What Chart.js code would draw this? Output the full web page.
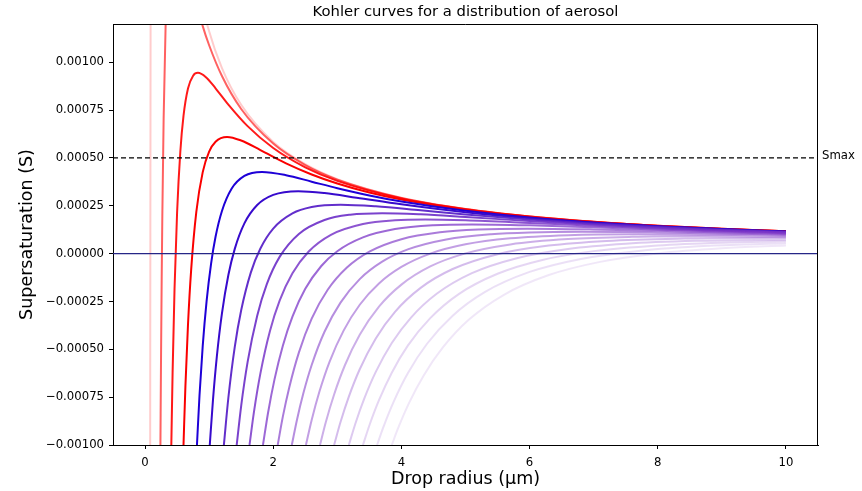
<!DOCTYPE html>
<html>
<head>
<meta charset="utf-8">
<script src="https://cdn.jsdelivr.net/npm/chart.js@4.4.1/dist/chart.umd.min.js"></script>
<style>
html,body{margin:0;padding:0;background:#fff;}
#wrap{width:862px;height:491px;}
</style>
</head>
<body>
<div id="wrap"><canvas id="c" width="862" height="491"></canvas></div>
<script>
// ---------- text ----------
const chartTitle = "Kohler curves for a distribution of aerosol";
const xAxisLabel = "Drop radius (\u03bcm)";
const yAxisLabel = "Supersaturation (S)";
const smaxLabel = "Smax";

// ---------- axes ----------
const xRange = [-0.5, 10.5];
const yRange = [-1.0e-3, 1.2e-3];
const xTicks = [0, 2, 4, 6, 8, 10];
const yTicks = [-1.0e-3, -0.75e-3, -0.5e-3, -0.25e-3, 0, 0.25e-3, 0.5e-3, 0.75e-3, 1.0e-3];
const smax = 0.5e-3;
const zeroLevel = 0;

// ---------- Kohler curves (radius in um, supersaturation) ----------
const curveRadii = [
  [0.080, 0.083, 0.0865, 0.090, 0.143, 0.40, 0.80, 1.0, 1.2, 1.5, 2.0, 2.5, 3.0, 4.0, 5.0, 6.0, 7.0, 8.0, 9.0, 10.0],
  [0.24, 0.25, 0.26, 0.27, 0.29, 0.32, 0.35, 0.456, 0.70, 0.90, 1.0, 1.2, 1.5, 2.0, 2.5, 3.0, 4.0, 5.0, 6.0, 7.0, 8.0, 9.0, 10.0],
  [0.41, 0.43, 0.46, 0.50, 0.55, 0.60, 0.67, 0.75, 0.825, 0.95, 1.1, 1.3, 1.6, 2.0, 2.5, 3.0, 4.0, 5.0, 6.0, 7.0, 8.0, 9.0, 10.0],
  [0.60, 0.63, 0.67, 0.72, 0.80, 0.90, 1.0, 1.1, 1.28, 1.5, 1.8, 2.2, 2.6, 3.0, 3.5, 4.0, 5.0, 6.0, 7.0, 8.0, 9.0, 10.0],
  [0.81, 0.85, 0.90, 0.96, 1.03, 1.10, 1.20, 1.35, 1.55, 1.825, 2.2, 2.6, 3.0, 3.5, 4.0, 5.0, 6.0, 7.0, 8.0, 9.0, 10.0],
  [1.01, 1.06, 1.12, 1.20, 1.30, 1.40, 1.55, 1.75, 2.0, 2.39, 2.8, 3.3, 4.0, 5.0, 6.0, 7.0, 8.0, 9.0, 10.0],
  [1.23, 1.30, 1.40, 1.50, 1.65, 1.80, 2.0, 2.3, 2.6, 3.05, 3.6, 4.3, 5.0, 6.0, 7.0, 8.0, 9.0, 10.0],
  [1.43, 1.50, 1.60, 1.75, 1.90, 2.10, 2.40, 2.80, 3.20, 3.70, 4.30, 5.0, 6.0, 7.0, 8.0, 9.0, 10.0],
  [1.63, 1.70, 1.80, 1.95, 2.10, 2.30, 2.55, 2.90, 3.40, 3.90, 4.37, 5.0, 6.0, 7.0, 8.0, 9.0, 10.0],
  [1.84, 1.92, 2.02, 2.15, 2.30, 2.50, 2.75, 3.0, 3.4, 3.9, 4.5, 5.1, 6.0, 7.0, 8.0, 9.0, 10.0],
  [2.07, 2.15, 2.25, 2.40, 2.60, 2.85, 3.15, 3.50, 4.0, 4.6, 5.2, 5.97, 7.0, 8.0, 9.0, 10.0],
  [2.29, 2.37, 2.47, 2.60, 2.80, 3.05, 3.35, 3.70, 4.10, 4.70, 5.40, 6.0, 6.82, 8.0, 9.0, 10.0],
  [2.51, 2.60, 2.72, 2.88, 3.10, 3.35, 3.65, 4.0, 4.45, 5.0, 5.7, 6.6, 7.7, 8.8, 10.0],
  [2.73, 2.82, 2.95, 3.12, 3.35, 3.65, 4.0, 4.45, 5.0, 5.7, 6.6, 7.6, 8.63, 10.0],
  [2.95, 3.05, 3.18, 3.35, 3.60, 3.90, 4.30, 4.80, 5.50, 6.30, 7.20, 8.30, 9.59, 10.0],
  [3.18, 3.28, 3.42, 3.60, 3.85, 4.15, 4.55, 5.10, 5.80, 6.60, 7.50, 8.60, 10.0],
  [3.40, 3.50, 3.65, 3.85, 4.10, 4.45, 4.90, 5.50, 6.20, 7.0, 8.0, 9.0, 10.0],
  [3.62, 3.72, 3.88, 4.10, 4.40, 4.80, 5.30, 6.0, 6.8, 7.7, 8.8, 10.0],
  [3.85, 3.95, 4.12, 4.35, 4.65, 5.05, 5.60, 6.30, 7.10, 8.0, 9.0, 10.0]
];
const curveSupersat = [
  [-1.0e-3, 0.105e-3, 1.165e-3, 2.026e-3, 5.45e-3, 2.80e-3, 1.447e-3, 1.162e-3, 0.970e-3, 0.778e-3, 0.584e-3, 0.4675e-3, 0.3897e-3, 0.2924e-3, 0.2339e-3, 0.195e-3, 0.1671e-3, 0.1462e-3, 0.130e-3, 0.117e-3],
  [-1.0e-3, -0.517e-3, -0.120e-3, 0.208e-3, 0.705e-3, 1.178e-3, 1.449e-3, 1.709e-3, 1.435e-3, 1.189e-3, 1.089e-3, 0.928e-3, 0.756e-3, 0.575e-3, 0.4628e-3, 0.387e-3, 0.2912e-3, 0.2333e-3, 0.1946e-3, 0.1669e-3, 0.1461e-3, 0.1299e-3, 0.1169e-3],
  [-1.0e-3, -0.620e-3, -0.185e-3, 0.215e-3, 0.531e-3, 0.720e-3, 0.863e-3, 0.930e-3, 0.945e-3, 0.922e-3, 0.864e-3, 0.779e-3, 0.6664e-3, 0.5518e-3, 0.451e-3, 0.3802e-3, 0.2883e-3, 0.2319e-3, 0.1938e-3, 0.1663e-3, 0.1457e-3, 0.1296e-3, 0.1167e-3],
  [-1.0e-3, -0.691e-3, -0.372e-3, -0.082e-3, 0.218e-3, 0.426e-3, 0.533e-3, 0.585e-3, 0.610e-3, 0.591e-3, 0.541e-3, 0.472e-3, 0.4137e-3, 0.3664e-3, 0.3194e-3, 0.2825e-3, 0.2289e-3, 0.1921e-3, 0.1652e-3, 0.1450e-3, 0.1291e-3, 0.1164e-3],
  [-1.0e-3, -0.739e-3, -0.482e-3, -0.249e-3, -0.053e-3, 0.088e-3, 0.223e-3, 0.339e-3, 0.406e-3, 0.427e-3, 0.410e-3, 0.376e-3, 0.342e-3, 0.304e-3, 0.2722e-3, 0.2236e-3, 0.1890e-3, 0.1633e-3, 0.1437e-3, 0.1282e-3, 0.1157e-3],
  [-1.0e-3, -0.764e-3, -0.538e-3, -0.312e-3, -0.112e-3, 0.025e-3, 0.158e-3, 0.254e-3, 0.307e-3, 0.3266e-3, 0.3166e-3, 0.2926e-3, 0.2578e-3, 0.2162e-3, 0.1847e-3, 0.1606e-3, 0.1419e-3, 0.1269e-3, 0.1148e-3],
  [-1.0e-3, -0.753e-3, -0.487e-3, -0.296e-3, -0.099e-3, 0.027e-3, 0.131e-3, 0.210e-3, 0.2434e-3, 0.2556e-3, 0.2472e-3, 0.2264e-3, 0.2050e-3, 0.1782e-3, 0.1565e-3, 0.1392e-3, 0.1250e-3, 0.1134e-3],
  [-1.0e-3, -0.795e-3, -0.567e-3, -0.324e-3, -0.159e-3, -0.017e-3, 0.103e-3, 0.1757e-3, 0.2033e-3, 0.2113e-3, 0.2052e-3, 0.1915e-3, 0.1704e-3, 0.1516e-3, 0.1359e-3, 0.1227e-3, 0.1117e-3],
  [-1.0e-3, -0.826e-3, -0.626e-3, -0.403e-3, -0.246e-3, -0.103e-3, 0.010e-3, 0.0984e-3, 0.1548e-3, 0.1746e-3, 0.1786e-3, 0.1745e-3, 0.1606e-3, 0.1454e-3, 0.1317e-3, 0.1198e-3, 0.1096e-3],
  [-1.0e-3, -0.830e-3, -0.657e-3, -0.481e-3, -0.329e-3, -0.184e-3, -0.0645e-3, 0.0126e-3, 0.0848e-3, 0.1282e-3, 0.1482e-3, 0.1526e-3, 0.1478e-3, 0.1374e-3, 0.1264e-3, 0.1160e-3, 0.1068e-3],
  [-1.0e-3, -0.852e-3, -0.699e-3, -0.517e-3, -0.340e-3, -0.189e-3, -0.0727e-3, 0.0106e-3, 0.0756e-3, 0.1117e-3, 0.1263e-3, 0.1307e-3, 0.1266e-3, 0.1191e-3, 0.1110e-3, 0.1031e-3],
  [-1.0e-3, -0.869e-3, -0.730e-3, -0.582e-3, -0.408e-3, -0.256e-3, -0.133e-3, -0.0419e-3, 0.0222e-3, 0.0742e-3, 0.1015e-3, 0.1110e-3, 0.1144e-3, 0.1108e-3, 0.1051e-3, 0.0989e-3],
  [-1.0e-3, -0.869e-3, -0.722e-3, -0.564e-3, -0.401e-3, -0.267e-3, -0.156e-3, -0.0697e-3, 0.0, 0.0486e-3, 0.0801e-3, 0.0967e-3, 0.1012e-3, 0.0989e-3, 0.0938e-3],
  [-1.0e-3, -0.881e-3, -0.736e-3, -0.582e-3, -0.424e-3, -0.277e-3, -0.162e-3, -0.067e-3, 0.0014e-3, 0.0483e-3, 0.0762e-3, 0.0877e-3, 0.0903e-3, 0.0879e-3],
  [-1.0e-3, -0.880e-3, -0.747e-3, -0.604e-3, -0.443e-3, -0.304e-3, -0.179e-3, -0.0804e-3, -0.0028e-3, 0.0423e-3, 0.0665e-3, 0.0783e-3, 0.0814e-3, 0.0812e-3],
  [-1.0e-3, -0.890e-3, -0.758e-3, -0.618e-3, -0.467e-3, -0.334e-3, -0.210e-3, -0.102e-3, -0.0238e-3, 0.0243e-3, 0.0517e-3, 0.0668e-3, 0.0730e-3],
  [-1.0e-3, -0.898e-3, -0.766e-3, -0.622e-3, -0.481e-3, -0.337e-3, -0.210e-3, -0.105e-3, -0.033e-3, 0.0131e-3, 0.0431e-3, 0.0575e-3, 0.0642e-3],
  [-1.0e-3, -0.905e-3, -0.773e-3, -0.625e-3, -0.471e-3, -0.324e-3, -0.201e-3, -0.0956e-3, -0.0275e-3, 0.0144e-3, 0.0409e-3, 0.0542e-3],
  [-1.0e-3, -0.911e-3, -0.780e-3, -0.635e-3, -0.489e-3, -0.346e-3, -0.215e-3, -0.112e-3, -0.0431e-3, 0.0009e-3, 0.0279e-3, 0.0426e-3]
];

// ---------- styles ----------
const curveColors = [
  'rgba(255,0,0,0.20)', 'rgba(255,0,0,0.62)', 'rgba(255,0,0,0.90)', 'rgba(250,0,0,1)',
  'rgba(30,0,215,1)', 'rgba(55,10,205,1)', 'rgba(90,35,200,0.95)', 'rgba(108,45,200,0.90)',
  'rgba(118,50,200,0.83)', 'rgba(124,55,200,0.75)', 'rgba(128,58,200,0.67)', 'rgba(130,60,200,0.58)',
  'rgba(130,60,200,0.49)', 'rgba(130,60,200,0.41)', 'rgba(130,60,200,0.34)', 'rgba(130,60,200,0.27)',
  'rgba(130,60,200,0.21)', 'rgba(130,60,200,0.16)', 'rgba(130,60,200,0.12)'
];
const FONT = '"DejaVu Sans", sans-serif';

// ---------- datasets ----------
const nCurves = curveRadii.length;
const datasets = [];
datasets.push({
  data: [{x: xRange[0], y: zeroLevel}, {x: xRange[1], y: zeroLevel}],
  borderColor: 'rgb(38,38,135)', borderWidth: 1.4, pointRadius: 0, order: 0
});
datasets.push({
  data: [{x: xRange[0], y: smax}, {x: xRange[1], y: smax}],
  borderColor: '#000', borderWidth: 1.3, borderDash: [5, 3], pointRadius: 0, order: 0
});
curveRadii.forEach((radii, k) => {
  datasets.push({
    data: radii.map((r, i) => ({x: r, y: curveSupersat[k][i]})),
    borderColor: curveColors[k],
    borderWidth: 2,
    pointRadius: 0,
    cubicInterpolationMode: 'monotone',
    fill: false,
    order: nCurves - k
  });
});

const decor = {
  id: 'decor',
  afterDraw(chart) {
    const {ctx, chartArea: a, scales} = chart;
    ctx.save();
    ctx.strokeStyle = '#000';
    ctx.lineWidth = 1;
    ctx.beginPath();
    const t = Math.round(a.top) + 0.5, r = Math.round(a.right) - 0.5;
    ctx.moveTo(a.left, t); ctx.lineTo(r, t); ctx.lineTo(r, a.bottom);
    ctx.stroke();
    ctx.fillStyle = '#000';
    ctx.textAlign = 'center';
    ctx.textBaseline = 'middle';
    ctx.font = '14.8px ' + FONT;
    ctx.fillText(chartTitle, (a.left + a.right) / 2, 12);
    ctx.font = '17.5px ' + FONT;
    ctx.fillText(xAxisLabel, (a.left + a.right) / 2, 479);
    ctx.save();
    ctx.translate(27, (a.top + a.bottom) / 2);
    ctx.rotate(-Math.PI / 2);
    ctx.fillText(yAxisLabel, 0, 0);
    ctx.restore();
    ctx.font = '11.7px ' + FONT;
    ctx.textAlign = 'left';
    ctx.textBaseline = 'alphabetic';
    ctx.fillText(smaxLabel, a.right + 4, scales.y.getPixelForValue(smax) + 1);
    ctx.restore();
  }
};

new Chart(document.getElementById('c'), {
  type: 'line',
  data: {datasets},
  options: {
    responsive: false,
    devicePixelRatio: 1,
    animation: false,
    layout: {padding: {left: 0, right: 44, top: 24, bottom: 0}},
    plugins: {legend: {display: false}, tooltip: {enabled: false}, title: {display: false}},
    scales: {
      x: {
        type: 'linear', min: xRange[0], max: xRange[1],
        afterBuildTicks: s => { s.ticks = xTicks.map(v => ({value: v})); },
        afterFit: s => { s.height = 46; },
        ticks: {font: {family: FONT, size: 11.7}, color: '#000', padding: 7, maxRotation: 0, autoSkip: false},
        grid: {drawOnChartArea: false, drawTicks: true, tickLength: 4, color: '#000', lineWidth: 1},
        border: {display: true, color: '#000', width: 1}
      },
      y: {
        type: 'linear', min: yRange[0], max: yRange[1],
        afterBuildTicks: s => { s.ticks = yTicks.map(v => ({value: v})); },
        afterFit: s => { s.width = 113; },
        ticks: {font: {family: FONT, size: 11.7}, color: '#000', padding: 5, autoSkip: false,
          callback: v => Number(v).toFixed(5).replace('-', '\u2212')},
        grid: {drawOnChartArea: false, drawTicks: true, tickLength: 4, color: '#000', lineWidth: 1},
        border: {display: true, color: '#000', width: 1}
      }
    }
  },
  plugins: [decor]
});
</script>
</body>
</html>
